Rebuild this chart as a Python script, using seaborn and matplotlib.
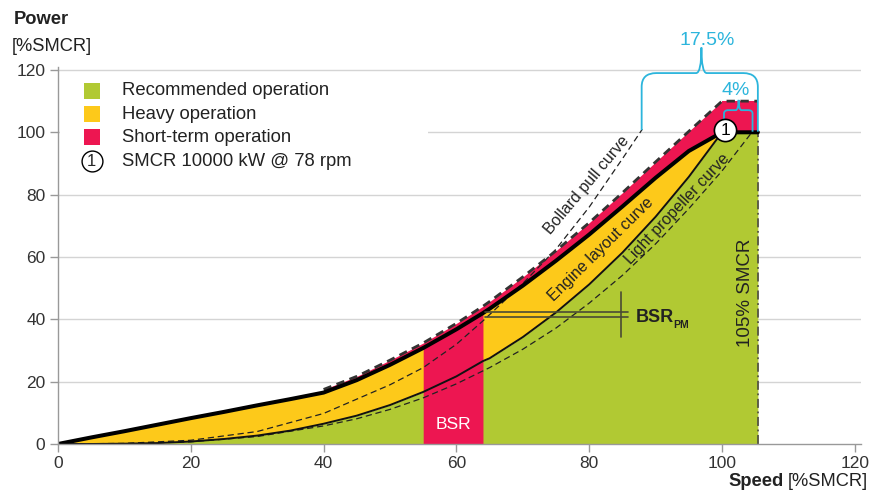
import numpy as np
import pandas as pd
import matplotlib
matplotlib.use("Agg")
import matplotlib.pyplot as plt
import seaborn as sns
from matplotlib.path import Path
from matplotlib.patches import PathPatch

# ---------------- data ----------------
speed = [0, 5, 10, 15, 20, 25, 30, 35, 40, 45, 50, 55, 60, 64, 65, 70, 75, 80, 85, 90, 95, 100]
layout_power = [0, 2.1, 4.1, 6.2, 8.3, 10.3, 12.4, 14.4, 16.5, 20.5, 25.4, 30.8, 36.8, 42.0,
                43.4, 50.8, 58.8, 67.2, 76.2, 85.4, 94.0, 100]
light_prop_power = [0, 0.0, 0.1, 0.3, 0.8, 1.6, 2.7, 4.3, 6.5, 9.1, 12.5, 16.7, 21.7, 26.6,
                    27.5, 34.3, 42.2, 51.2, 61.4, 72.9, 85.7, 100]

short_term_speed = [40, 45, 50, 55, 60, 64, 65, 70, 75, 80, 85, 90, 95, 100]
short_term_power = [17.5, 21.7, 26.9, 32.4, 38.7, 44.2, 45.7, 53.6, 62.0, 71.0, 80.6, 90.5, 100.3, 110]

bollard_speed = [0, 10, 20, 30, 40, 50, 55, 60, 64, 70, 75, 80, 85, 88]
bollard_power = [0, 0.2, 1.2, 4.0, 9.8, 19.0, 24.5, 32.0, 39.5, 51.5, 62.5, 76.0, 91.5, 101.0]

light_dash_speed = [0, 10, 20, 30, 40, 45, 50, 55, 60, 65, 70, 75, 80, 85, 90, 95, 100, 104.5]
light_dash_power = [0, 0.1, 0.7, 2.4, 5.8, 8.1, 11.1, 14.8, 19.3, 24.5, 30.4, 37.2, 45.2, 54.1,
                    64.2, 75.5, 87.6, 100]

smcr_speed = 100
max_speed = 105.4
layout_max = 100
short_term_max = 110
bsr_range = [55, 64]
bsr_pm_power = [40.7, 42.3]
bsr_pm_speed = [64.3, 85.8]
bsr_pm_tick_speed = 84.8
bsr_pm_tick_power = [34.3, 48.8]

legend_labels = ["Recommended operation", "Heavy operation", "Short-term operation",
                 "SMCR 10000 kW @ 78 rpm"]
x_ticks = [0, 20, 40, 60, 80, 100, 120]
y_ticks = [0, 20, 40, 60, 80, 100, 120]

# ---------------- style ----------------
GREEN = "#b1c933"
YELLOW = "#fdc91a"
RED = "#ed1651"
CYAN = "#2cb5dc"
TXT = "#222222"

sns.set_theme(style="white")
plt.rcParams["font.family"] = ["Liberation Sans", "DejaVu Sans"]

fig = plt.figure(figsize=(8.78, 4.93), dpi=100)
ax = fig.add_axes([58 / 878, 1 - 444 / 493, 121 * 6.64 / 878, 121 * 3.117 / 493])
ax.set_xlim(0, 121)
ax.set_ylim(0, 121)

sp = np.array(speed, float)
lay = np.array(layout_power, float)
lp = np.array(light_prop_power, float)
st_s = np.array(short_term_speed, float)
st_p = np.array(short_term_power, float)

# grid
for yv in y_ticks[1:]:
    ax.axhline(yv, color="#d4d4d4", lw=1.0, zorder=0.5)
# white area behind legend
ax.fill_between([0.3, 55.7], 95, 104, color="white", zorder=0.6, lw=0)

# ---------------- fills ----------------
green_x = np.append(sp, max_speed)
green_y = np.append(lp, layout_max)
ax.fill_between(green_x, 0, green_y, color=GREEN, lw=0, zorder=1)
ax.fill_between(sp, lp, lay, color=YELLOW, lw=0, zorder=1)
lay_at_st = lay[sp >= 40]
ax.fill_between(st_s, lay_at_st, st_p, color=RED, lw=0, zorder=1)
ax.fill_between([smcr_speed, max_speed], layout_max, short_term_max, color=RED, lw=0, zorder=1)
mask = (sp >= bsr_range[0]) & (sp <= bsr_range[1])
ax.fill_between(sp[mask], 0, lay[mask], color=RED, lw=0, zorder=1.1)

# ---------------- lines (seaborn) ----------------
df_lay = pd.DataFrame({"speed": np.append(sp, max_speed), "power": np.append(lay, layout_max)})
df_lp = pd.DataFrame({"speed": sp, "power": lp})
df_st = pd.DataFrame({"speed": np.append(st_s, max_speed), "power": np.append(st_p, short_term_max)})
df_bp = pd.DataFrame({"speed": bollard_speed, "power": bollard_power})
df_ld = pd.DataFrame({"speed": light_dash_speed, "power": light_dash_power})

sns.lineplot(data=df_ld, x="speed", y="power", ax=ax, color="#222222", lw=0.9,
             linestyle=(0, (5, 3)), sort=False, estimator=None, zorder=2)
sns.lineplot(data=df_bp, x="speed", y="power", ax=ax, color="#222222", lw=0.9,
             linestyle=(0, (5, 3)), sort=False, estimator=None, zorder=2)
sns.lineplot(data=df_lp, x="speed", y="power", ax=ax, color="#111111", lw=1.4,
             sort=False, estimator=None, zorder=2.2)
sns.lineplot(data=df_st, x="speed", y="power", ax=ax, color="#333333", lw=2.0,
             linestyle=(0, (3, 2)), sort=False, estimator=None, zorder=2.3)
sns.lineplot(data=df_lay, x="speed", y="power", ax=ax, color="black", lw=2.9,
             sort=False, estimator=None, zorder=2.5)

# 105% SMCR vertical
ax.plot([max_speed, max_speed], [0, layout_max], color="#555544", lw=1.3,
        linestyle=(0, (5, 2, 1, 2)), zorder=2.4)

# BSR_PM marks
for pw in bsr_pm_power:
    ax.plot(bsr_pm_speed, [pw, pw], color="#4a4a35", lw=1.2, zorder=2.6)
ax.plot([bsr_pm_tick_speed] * 2, bsr_pm_tick_power, color="#4a4a35", lw=1.2, zorder=2.6)
ax.text(87.0, 40.6, "BSR", fontsize=13, fontweight="bold", color=TXT, va="center", ha="left", zorder=4)
ax.text(92.6, 38.1, "PM", fontsize=7.5, fontweight="bold", color=TXT, va="center", ha="left", zorder=4)

# BSR label
ax.text(59.5, 6.4, "BSR", fontsize=12.5, color="white", ha="center", va="center", zorder=4)

# curve labels
ax.text(79.6, 83.2, "Bollard pull curve", fontsize=11.5, color=TXT, rotation=50,
        ha="center", va="center", rotation_mode="anchor", zorder=4)
ax.text(81.8, 62.4, "Engine layout curve", fontsize=11.5, color=TXT, rotation=44.5,
        ha="center", va="center", rotation_mode="anchor", zorder=4)
ax.text(93.3, 75.3, "Light propeller curve", fontsize=11.5, color=TXT, rotation=46.8,
        ha="center", va="center", rotation_mode="anchor", zorder=4)
ax.text(103.5, 48.5, "105% SMCR", fontsize=13.5, color=TXT, rotation=90,
        ha="center", va="center", zorder=4)

# SMCR point marker
ax.plot([smcr_speed + 0.5], [layout_max + 0.7], marker="o", ms=16, mfc="white", mec="black",
        mew=1.2, zorder=5, clip_on=False)
ax.text(smcr_speed + 0.5, layout_max + 0.5, "1", fontsize=12.5, ha="center", va="center",
        color="black", zorder=6)


# ---------------- braces ----------------
def brace(x0, x1, yb0, yb1, yv, yh, xc, ytip, rx, cx):
    verts = [(x0, yb0), (x0, yv), (x0, yh), (x0 + rx, yh), (xc - cx, yh), (xc, yh), (xc, ytip),
             (xc, yh), (xc + cx, yh), (x1 - rx, yh), (x1, yh), (x1, yv), (x1, yb1)]
    codes = [Path.MOVETO, Path.LINETO, Path.CURVE3, Path.CURVE3, Path.LINETO, Path.CURVE3,
             Path.CURVE3, Path.CURVE3, Path.CURVE3, Path.LINETO, Path.CURVE3, Path.CURVE3,
             Path.LINETO]
    ax.add_patch(PathPatch(Path(verts, codes), fill=False, edgecolor=CYAN, lw=1.3,
                           zorder=4.5, clip_on=False))


brace(87.9, 105.4, 100.7, 100.2, 114.6, 119.0, 96.9, 127.2, 2.2, 0.8)
brace(100.3, 104.6, 101.3, 100.2, 106.0, 107.1, 102.5, 110.4, 0.65, 0.45)
ax.text(97.7, 129.6, "17.5%", fontsize=14, color=CYAN, ha="center", va="center", clip_on=False)
ax.text(102.1, 113.3, "4%", fontsize=14, color=CYAN, ha="center", va="center", zorder=5)

# ---------------- legend (manual) ----------------
leg_y = [113.3, 105.8, 98.4, 90.7]
for c, yv in zip([GREEN, YELLOW, RED], leg_y[:3]):
    ax.scatter([5.05], [yv], marker="s", s=120, color=c, zorder=5, linewidths=0)
ax.plot([5.05], [leg_y[3]], marker="o", ms=15, mfc="white", mec="black", mew=1.0, zorder=5)
ax.text(5.05, leg_y[3] - 0.2, "1", fontsize=12, ha="center", va="center", zorder=6)
for lab, yv in zip(legend_labels, leg_y):
    ax.text(9.64, yv, lab, fontsize=13.3, color=TXT, ha="left", va="center", zorder=5)

# ---------------- axes ----------------
sns.despine(ax=ax)
for s in ["left", "bottom"]:
    ax.spines[s].set_color("#999999")
    ax.spines[s].set_linewidth(1.0)
ax.set_xticks(x_ticks)
ax.set_yticks(y_ticks)
ax.tick_params(axis="both", which="major", length=6, width=1, color="#999999",
               labelsize=12.5, labelcolor="#333333", bottom=True, left=True, pad=3)
ax.set_xlabel("")
ax.set_ylabel("")
ax.grid(False)

fig.text(14 / 878, 1 - 20 / 493, "Power", fontsize=13.2, fontweight="bold", color=TXT,
         ha="left", va="center")
fig.text(12 / 878, 1 - 46.7 / 493, "[%SMCR]", fontsize=13.2, color=TXT, ha="left", va="center")

unit_txt = fig.text(868 / 878, 1 - 482 / 493, "[%SMCR]", fontsize=13.2, color=TXT,
                    ha="right", va="center")
renderer = fig.canvas.get_renderer()
bb = unit_txt.get_window_extent(renderer=renderer)
fig.text((bb.x0 - 4) / 878, 1 - 482 / 493, "Speed", fontsize=13.2, fontweight="bold", color=TXT,
         ha="right", va="center")

fig.savefig("out.png", dpi=100)
